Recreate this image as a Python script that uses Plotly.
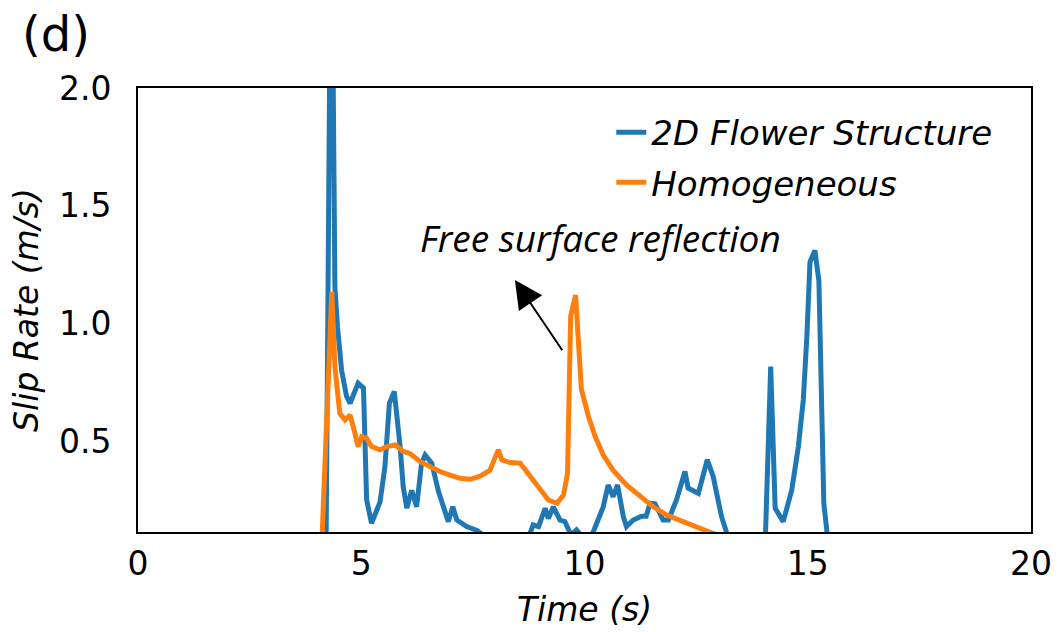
import plotly.graph_objects as go

# ---- data ----
time_flower = [0.0, 4.0, 4.21, 4.33, 4.41, 4.47, 4.56, 4.67, 4.75, 4.93, 5.05, 5.12, 5.23, 5.42,
               5.53, 5.63, 5.74, 5.87, 5.94, 6.02, 6.13, 6.24, 6.35, 6.43, 6.58, 6.73, 6.95,
               7.05, 7.14, 7.36, 7.59, 7.8, 8.3, 8.75, 8.85, 8.97, 9.12, 9.19, 9.30, 9.45,
               9.56, 9.70, 9.82, 9.92, 10.1, 10.2, 10.42, 10.53, 10.64, 10.74, 10.87, 10.94,
               11.09, 11.28, 11.38, 11.47, 11.58, 11.76, 11.88, 12.06, 12.14, 12.25, 12.32,
               12.55, 12.75, 12.88, 13.07, 13.2, 13.6, 14.05, 14.17, 14.27, 14.45, 14.64,
               14.79, 14.90, 14.98, 15.05, 15.16, 15.25, 15.36, 15.45, 16.0, 17.0]
slip_flower = [0.0, 0.0, 0.0, 3.0, 1.15, 0.98, 0.80, 0.69, 0.66, 0.745, 0.725, 0.25, 0.15, 0.24,
               0.39, 0.66, 0.71, 0.476, 0.305, 0.215, 0.29, 0.22, 0.405, 0.44, 0.405, 0.285, 0.157,
               0.22, 0.164, 0.136, 0.12, 0.09, 0.05, 0.09, 0.143, 0.136, 0.214, 0.17, 0.22, 0.164,
               0.157, 0.10, 0.122, 0.10, 0.08, 0.115, 0.22, 0.313, 0.263, 0.313, 0.178, 0.136,
               0.164, 0.18, 0.18, 0.235, 0.233, 0.164, 0.164, 0.249, 0.305, 0.37, 0.30,
               0.277, 0.42, 0.35, 0.178, 0.10, 0.05, 0.08, 0.816, 0.214, 0.157, 0.29,
               0.476, 0.674, 0.943, 1.26, 1.31, 1.18, 0.235, 0.08, 0.03, 0.02]

time_homog = [0.0, 4.0, 4.12, 4.34, 4.41, 4.52, 4.64, 4.75, 4.86, 4.93, 5.01, 5.12, 5.23, 5.42,
              5.57, 5.76, 5.94, 6.09, 6.32, 6.54, 6.76, 6.99, 7.21, 7.44, 7.66, 7.88, 8.07,
              8.15, 8.33, 8.56, 8.78, 9.0, 9.19, 9.38, 9.53, 9.62, 9.69, 9.80, 9.93, 10.09,
              10.24, 10.42, 10.64, 10.94, 11.24, 11.54, 11.84, 12.14, 12.44, 12.77, 13.1, 14.0]
slip_homog = [0.0, 0.0, 0.08, 1.134, 0.815, 0.617, 0.589, 0.61, 0.532, 0.476, 0.518, 0.511, 0.476, 0.462,
              0.476, 0.483, 0.455, 0.447, 0.412, 0.391, 0.37, 0.355, 0.341, 0.337, 0.35, 0.375, 0.462,
              0.419, 0.408, 0.405, 0.348, 0.292, 0.249, 0.235, 0.27, 0.362, 1.03, 1.12, 0.72, 0.603,
              0.518, 0.44, 0.376, 0.313, 0.263, 0.22, 0.185, 0.161, 0.139, 0.113, 0.09, 0.05]

series_names = ["2D Flower Structure", "Homogeneous"]
x_ticks = [0, 5, 10, 15, 20]
y_ticks = [0.5, 1.0, 1.5, 2.0]
x_range = [0, 20]
y_range = [0.113, 2.0]

BLUE = "#1f77b4"
ORANGE = "#ff7f0e"
FONT = "DejaVu Sans"

fig = go.Figure()
fig.add_trace(go.Scatter(x=time_flower, y=slip_flower, mode="lines", name=series_names[0],
                         legendgroup="a", line=dict(color=BLUE, width=5)))
fig.add_trace(go.Scatter(x=time_homog, y=slip_homog, mode="lines", name=series_names[1],
                         legendgroup="b", line=dict(color=ORANGE, width=5)))

axis_common = dict(showline=True, linecolor="black", linewidth=2, mirror=True,
                   showgrid=False, zeroline=False, ticks="outside", automargin=False,
                   tickcolor="rgba(0,0,0,0)",
                   tickfont=dict(family=FONT, size=33, color="black"))

fig.update_xaxes(range=x_range, tickvals=x_ticks, ticklen=1,
                 title=dict(text="Time (s)", font=dict(family=FONT, size=33, style="italic", color="black"),
                            standoff=16),
                 **axis_common)
fig.update_yaxes(range=y_range, tickvals=y_ticks, ticktext=[f"{v:.1f}" for v in y_ticks], ticklen=18,
                 title=dict(text="Slip Rate (m/s)", font=dict(family=FONT, size=33, style="italic", color="black"),
                            standoff=10),
                 **axis_common)

fig.add_annotation(text="Free surface reflection", x=10.35, y=1.365, xref="x", yref="y",
                   showarrow=False, font=dict(family="Open Sans", size=37, style="italic", color="black"))
fig.add_annotation(text="", x=8.44, y=1.184, ax=9.525, ay=0.879, xref="x", yref="y",
                   axref="x", ayref="y", showarrow=True, arrowhead=2, arrowsize=2.8,
                   arrowwidth=2, arrowcolor="black")
fig.add_annotation(text="(d)", xref="paper", yref="paper", x=-0.132, y=1.19,
                   xanchor="left", yanchor="top", showarrow=False,
                   font=dict(family=FONT, size=48, color="black"))

fig.update_layout(
    width=1057, height=632, autosize=False,
    margin=dict(l=138, r=26, t=88, b=100),
    paper_bgcolor="white", plot_bgcolor="white",
    legend=dict(x=0.530, y=0.965, xanchor="left", yanchor="top",
                bgcolor="rgba(0,0,0,0)", borderwidth=0, tracegroupgap=3,
                font=dict(family=FONT, size=34, style="italic", color="black")),
)

fig.write_html("out.html")
